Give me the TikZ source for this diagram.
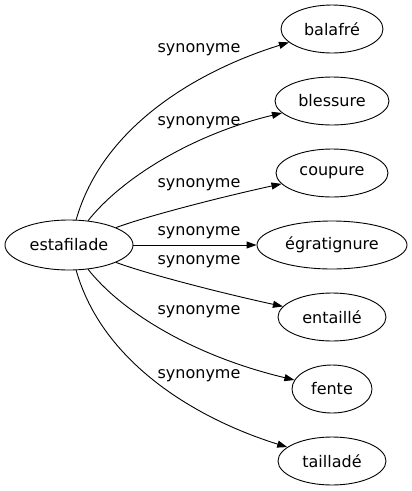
\documentclass[tikz,border=0pt]{standalone}
\usepackage{fontspec}
\setmainfont{DejaVu Sans}
\usetikzlibrary{shapes.geometric,arrows.meta}
\begin{document}
\begin{tikzpicture}[x=1pt,y=-1pt,
  nd/.style={draw,ellipse,inner sep=0pt,line width=0.9pt,font=\fontsize{16}{16}\selectfont},
  lbl/.style={font=\fontsize{16}{16}\selectfont,inner sep=0pt},
  edge/.style={line width=0.9pt,-{Triangle[length=10pt,width=7pt]}}]
\useasboundingbox (0,0) rectangle (412,491);
\node[nd,minimum width=128pt,minimum height=50pt] (est) at (69,245) {estafilade};
\node[nd,minimum width=102pt,minimum height=48pt] (bal) at (332,29) {balafré};
\node[nd,minimum width=114pt,minimum height=48pt] (ble) at (332,101) {blessure};
\node[nd,minimum width=112pt,minimum height=48pt] (cou) at (332,173) {coupure};
\node[nd,minimum width=150pt,minimum height=48pt] (egr) at (332,245) {égratignure};
\node[nd,minimum width=108pt,minimum height=48pt] (ent) at (332,317) {entaillé};
\node[nd,minimum width=80pt,minimum height=48pt] (fen) at (332,389) {fente};
\node[nd,minimum width=108pt,minimum height=48pt] (tai) at (332,461) {tailladé};
\draw[edge] (est) .. controls (103,125) and (200,70) .. (bal);
\draw[edge] (est) .. controls (120,180) and (190,135) .. (ble);
\draw[edge] (est) .. controls (150,215) and (230,195) .. (cou);
\draw[edge] (est) -- (egr);
\draw[edge] (est) .. controls (150,275) and (230,295) .. (ent);
\draw[edge] (est) .. controls (120,310) and (190,355) .. (fen);
\draw[edge] (est) .. controls (103,365) and (200,420) .. (tai);
\node[lbl] (l1) at (199,50) {synonyme};
\node[lbl] (l2) at (199,123) {synonyme};
\node[lbl] (l3) at (199,185) {synonyme};
\node[lbl] (l4) at (199,233) {synonyme};
\node[lbl] (l5) at (199,262) {synonyme};
\node[lbl] (l6) at (199,312) {synonyme};
\node[lbl] (l7) at (199,376) {synonyme};
\end{tikzpicture}
\end{document}
